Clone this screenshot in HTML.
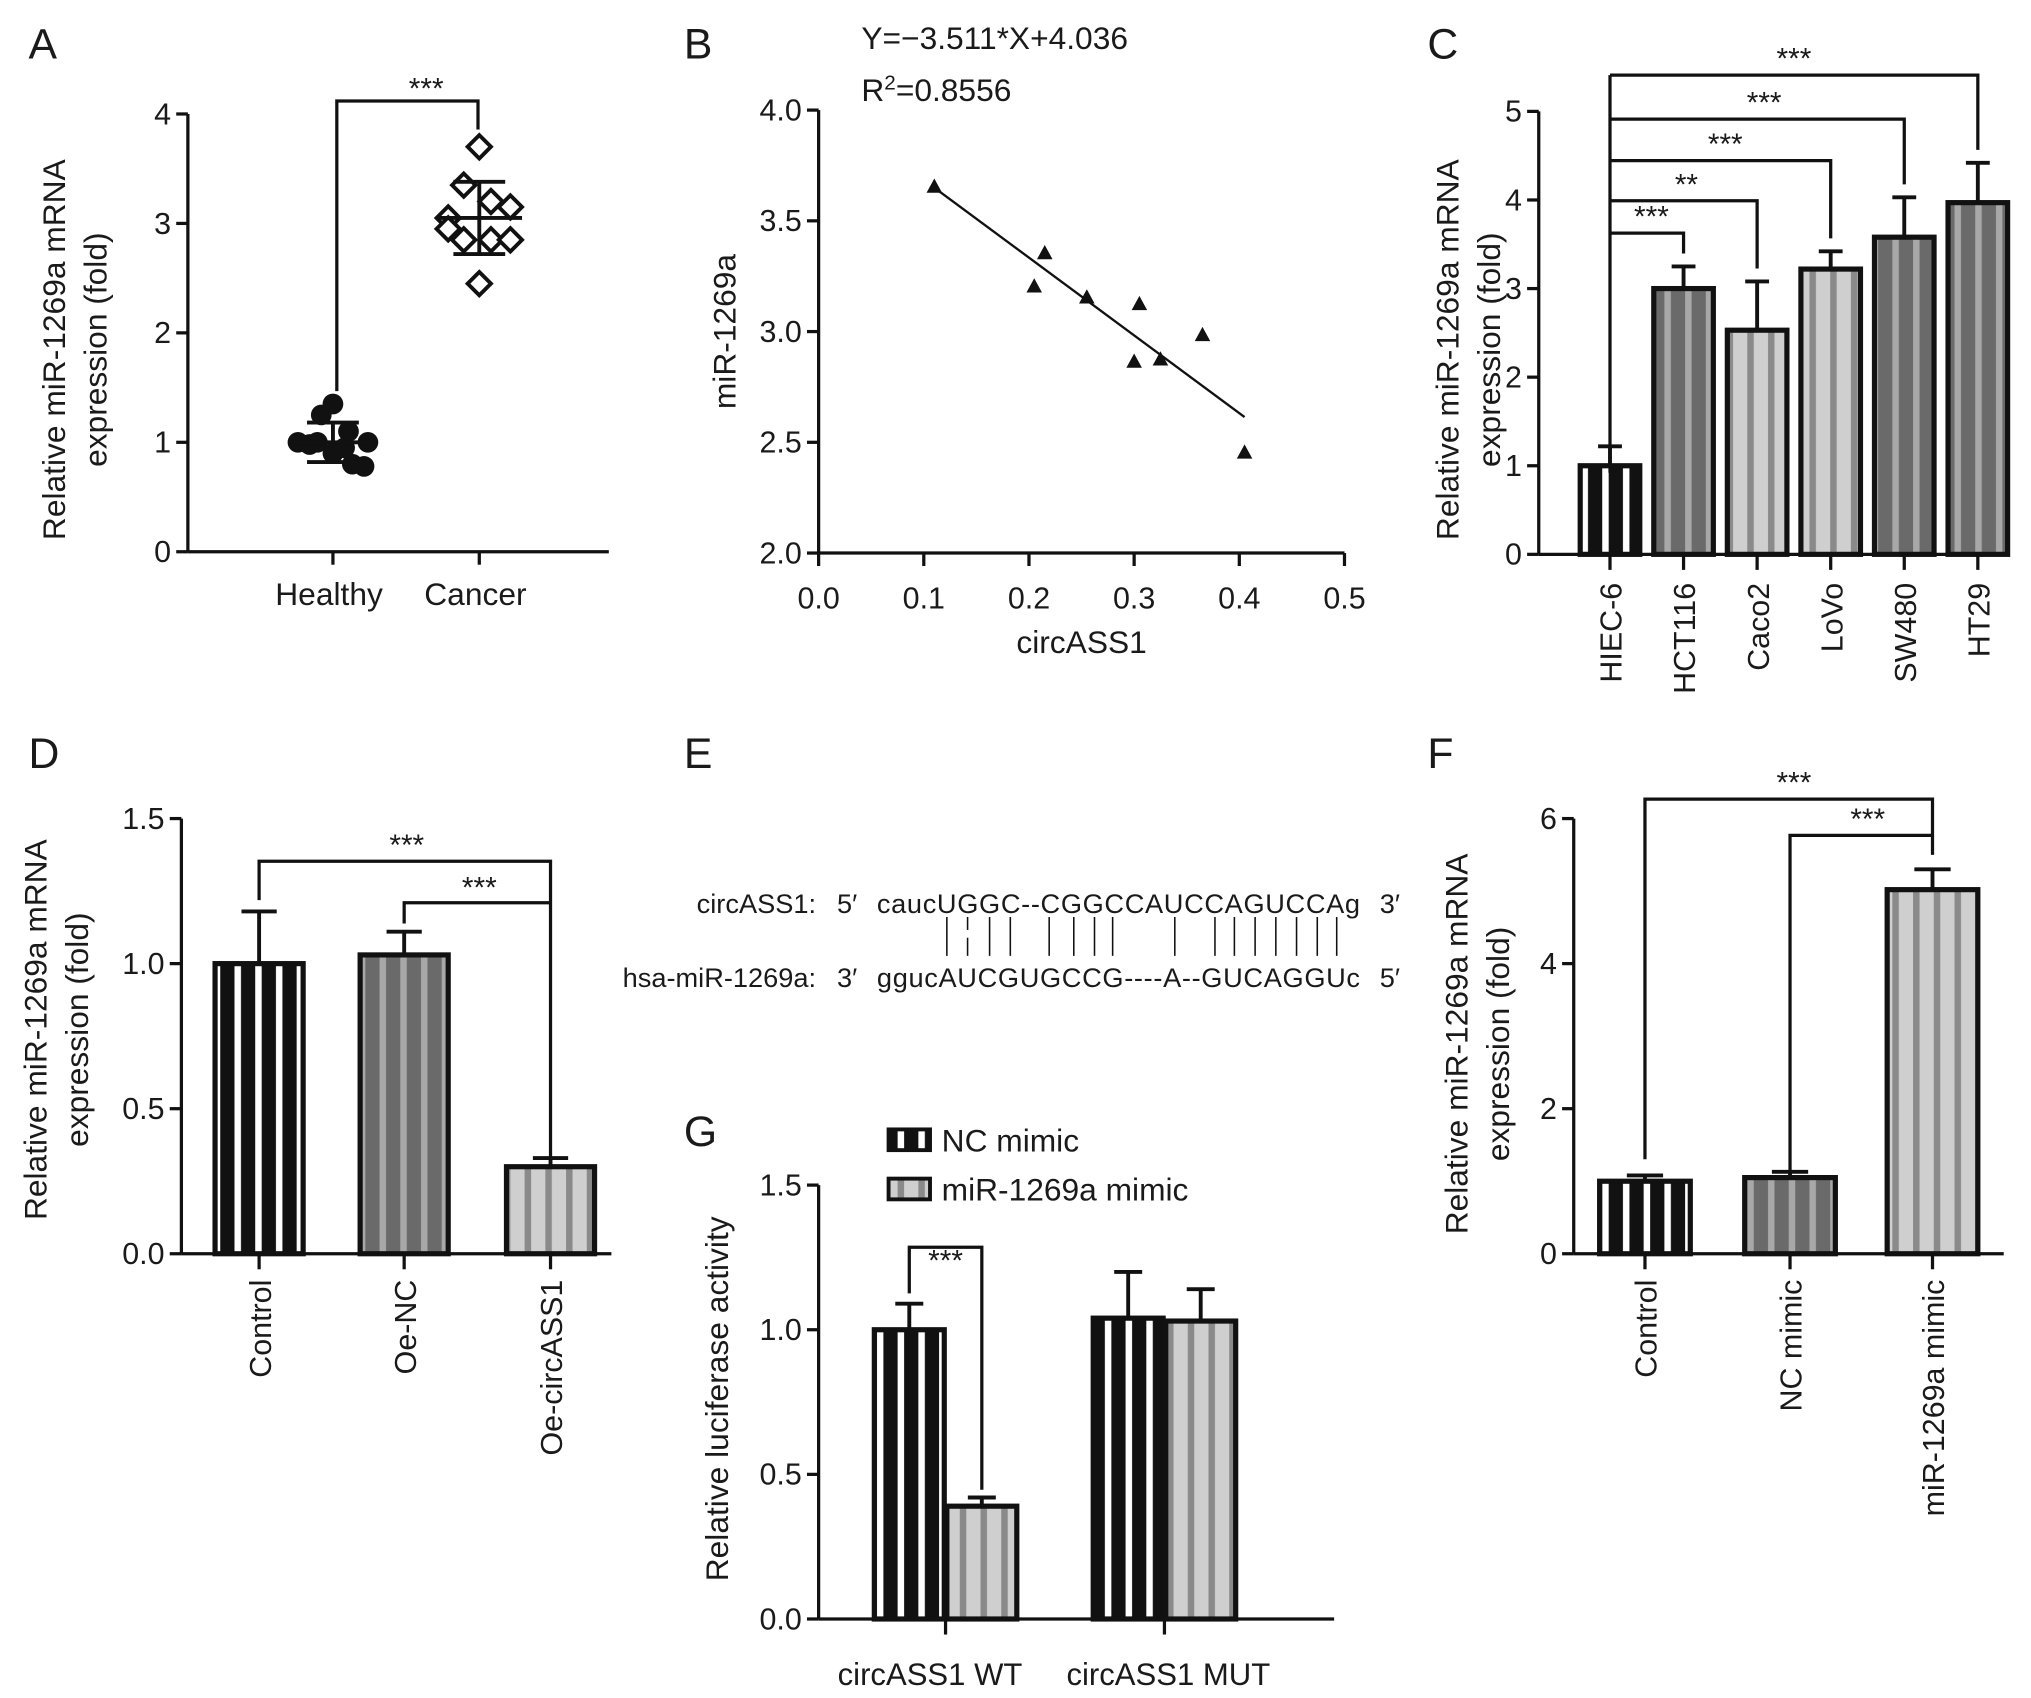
<!DOCTYPE html>
<html><head><meta charset="utf-8"><style>
html,body{margin:0;padding:0;background:#fff}
svg{display:block}
text{font-family:"Liberation Sans",Arial,sans-serif;fill:#1a1a1a}
</style></head><body>
<svg id="fig" width="2031" height="1698" viewBox="0 0 1568 1311" xmlns="http://www.w3.org/2000/svg">
<defs>
<pattern id="pBlack" width="16" height="10" patternUnits="userSpaceOnUse"><rect width="16" height="10" fill="#111"/><rect x="5" width="5" height="10" fill="#fff"/></pattern>
<pattern id="pDark" width="16" height="10" patternUnits="userSpaceOnUse"><rect width="16" height="10" fill="#6a6a6a"/><rect x="5" width="5" height="10" fill="#a8a8a8"/></pattern>
<pattern id="pLight" width="16" height="10" patternUnits="userSpaceOnUse"><rect width="16" height="10" fill="#cfcfcf"/><rect x="5" width="5" height="10" fill="#8a8a8a"/></pattern>
</defs>
<g id="root"></g>
</svg>
<script>
// ---- Panel A data ----
const aCats=["Healthy","Cancer"];
const aHealthy=[1.35,1.25,1.1,1.0,1.0,0.98,0.9,0.95,0.8,0.78,1.0];
const aHealthyX=[0,-0.3,0.4,0.9,-0.9,-0.6,0,0.3,0.5,0.8,-0.4];
const aCancer=[3.7,3.35,3.2,3.15,3.05,2.95,2.85,2.85,2.85,2.45];
const aCancerX=[0,-0.4,0.3,0.8,-0.8,-0.8,-0.4,0.3,0.8,0];
const aMean=[1.0,3.05];
const aSD=[0.18,0.33];
const aTicks=[0,1,2,3,4];
// ---- Panel B data ----
const bX=[0.11,0.215,0.205,0.255,0.305,0.3,0.325,0.365,0.405];
const bY=[3.65,3.35,3.2,3.15,3.12,2.86,2.87,2.98,2.45];
const bSlope=-3.511, bIntercept=4.036;
const bXTicks=[0.0,0.1,0.2,0.3,0.4,0.5];
const bYTicks=[2.0,2.5,3.0,3.5,4.0];
// ---- Panel C data ----
const cCats=["HIEC-6","HCT116","Caco2","LoVo","SW480","HT29"];
const cVals=[1.0,3.0,2.53,3.22,3.58,3.97];
const cErr=[0.22,0.25,0.55,0.2,0.45,0.45];
const cStars=["***","**","***","***","***"];
const cTicks=[0,1,2,3,4,5];
// ---- Panel D data ----
const dCats=["Control","Oe-NC","Oe-circASS1"];
const dVals=[1.0,1.03,0.3];
const dErr=[0.18,0.08,0.03];
const dTicks=[0.0,0.5,1.0,1.5];
// ---- Panel F data ----
const fCats=["Control","NC mimic","miR-1269a mimic"];
const fVals=[1.0,1.05,5.02];
const fErr=[0.08,0.08,0.28];
const fTicks=[0,2,4,6];
// ---- Panel G data ----
const gGroups=["circASS1 WT","circASS1 MUT"];
const gSeries=["NC mimic","miR-1269a mimic"];
const gNC=[1.0,1.04];
const gMimic=[0.39,1.03];
const gNCErr=[0.09,0.16];
const gMimicErr=[0.03,0.11];
const gTicks=[0.0,0.5,1.0,1.5];

const NS="http://www.w3.org/2000/svg";
const root=document.getElementById('root');
function el(tag,attrs,parent){const e=document.createElementNS(NS,tag);for(const k in attrs)e.setAttribute(k,attrs[k]);(parent||root).appendChild(e);return e;}
function line(x1,y1,x2,y2,w,p){return el('line',{x1,y1,x2,y2,stroke:'#111','stroke-width':w||2.5},p);}
function txt(x,y,s,size,anchor,p,rot){const t=el('text',{x,y,'font-size':size,'text-anchor':anchor||'middle'},p);if(rot)t.setAttribute('transform',`rotate(${rot} ${x} ${y})`);t.textContent=s;return t;}
function lin(d0,d1,r0,r1){return v=>r0+(v-d0)/(d1-d0)*(r1-r0);}

function yAxis(g,x,y0,y1,ticks,fy,fmt){
  line(x,y0,x,y1,2.5,g);
  ticks.forEach(t=>{const y=fy(t);const tk=line(x-9,y,x,y,2.5,g);
    const l=txt(x-13,y+8,fmt?fmt(t):String(t),23.5,'end',g);});
}
function yTitle(g,x1,x2,cy,l1,l2){
  const a=txt(x1,cy,l1,24.5,'middle',g,-90);
  if(l2){const b=txt(x2,cy,l2,24.5,'middle',g,-90);}
}
function panelLetter(x,y,s){const t=txt(x,y,s,33,'start');}
function bar(g,cx,w,v,err,fy,fill){
  const y=fy(v),y0=fy(0);
  const r=el('rect',{x:cx-w/2,y:y,width:w,height:y0-y,fill:fill,stroke:'#111','stroke-width':4},g);
  
  
  const ye=fy(v+err);
  line(cx,y,cx,ye,3,g);line(cx-w*0.2,ye,cx+w*0.2,ye,3,g);
}
function fmt1(t){return t.toFixed(1);}
const STAR=23;

panelLetter(22,45,'A');panelLetter(528,45,'B');panelLetter(1102,45,'C');
panelLetter(22,593,'D');panelLetter(528,593,'E');panelLetter(1102,593,'F');panelLetter(528,885,'G');

// ---------- Panel A ----------
(function(){
  const g=el('g',{});
  const fy=lin(0,4,426,88);const cx=[257,370];
  yAxis(g,145,426,88,aTicks,fy);
  line(145,426,470,426,2.5,g);
  aCats.forEach((c,i)=>{line(cx[i],426,cx[i],436,2.5,g);const l=txt(cx[i]-3,467,c,24.5,'middle',g);});
  yTitle(g,50,82,270,"Relative miR-1269a mRNA","expression (fold)");
  aHealthy.forEach((v,i)=>{const c=el('circle',{cx:cx[0]+aHealthyX[i]*30,cy:fy(v),r:8,fill:'#111'},g);});
  aCancer.forEach((v,i)=>{const x=cx[1]+aCancerX[i]*30,y=fy(v);const p=el('polygon',{points:`${x},${y-9} ${x+9},${y} ${x},${y+9} ${x-9},${y}`,fill:'#fff',stroke:'#111','stroke-width':3},g);});
  aMean.forEach((m,i)=>{const x=cx[i];line(x-33,fy(m),x+33,fy(m),3,g);line(x,fy(m-aSD[i]),x,fy(m+aSD[i]),3,g);line(x-20,fy(m-aSD[i]),x+20,fy(m-aSD[i]),3,g);line(x-20,fy(m+aSD[i]),x+20,fy(m+aSD[i]),3,g);});
  el('polyline',{points:`260,302 260,78 369,78 369,100`,fill:'none',stroke:'#111','stroke-width':2.5},g);
  txt(329,76,'***',STAR,'middle',g);
})();

// ---------- Panel B ----------
(function(){
  const g=el('g',{});
  const fx=lin(0,0.5,632,1038),fy=lin(2,4,427,85);
  yAxis(g,632,427,85,bYTicks,fy,fmt1);
  line(632,427,1038,427,2.5,g);
  bXTicks.forEach(t=>{line(fx(t),427,fx(t),437,2.5,g);const l=txt(fx(t),470,t.toFixed(1),23.5,'middle',g);});
  const xt=txt(835,504,'circASS1',24.5,'middle',g);
  yTitle(g,568,0,256,'miR-1269a');
  const xs=Math.min(...bX),xe=Math.max(...bX);
  const rl=line(fx(xs),fy(bSlope*xs+bIntercept),fx(xe),fy(bSlope*xe+bIntercept),1.8,g);
  bX.forEach((v,i)=>{const x=fx(v),y=fy(bY[i]);const p=el('polygon',{points:`${x},${y-7} ${x+6},${y+4} ${x-6},${y+4}`,fill:'#111'},g);});
  const eq=txt(665,38,'Y=\u22123.511*X+4.036',24.5,'start',g);
  const r2=el('text',{x:665,y:78,'font-size':24.5},g);
  r2.innerHTML='R<tspan dy="-9" font-size="16">2</tspan><tspan dy="9">=0.8556</tspan>';
})();

// ---------- Panel C ----------
(function(){
  const g=el('g',{});
  const fy=lin(0,5,428,86);const cx=cCats.map((c,i)=>1243+i*56.8);
  yAxis(g,1188,428,86,cTicks,fy);
  line(1188,428,1548,428,2.5,g);
  const fills=['url(#pBlack)','url(#pDark)','url(#pLight)','url(#pLight)','url(#pDark)','url(#pDark)'];
  cCats.forEach((c,i)=>{bar(g,cx[i],46,cVals[i],cErr[i],fy,fills[i]);line(cx[i],428,cx[i],440,2.5,g);
    const l=txt(cx[i]+9,450,c,23.5,'end',g,-90);});
  yTitle(g,1126,1158,270,"Relative miR-1269a mRNA","expression (fold)");
  for(let k=1;k<cCats.length;k++){
    const y=[0,180,155,124,92,58][k];
    const yEnd=fy(cVals[k]+cErr[k])-10;
    el('polyline',{points:`1243,${y} ${cx[k]},${y} ${cx[k]},${yEnd}`,fill:'none',stroke:'#111','stroke-width':2.5},g);
    txt([0,1275,1302,1332,1362,1385][k],y-5,cStars[k-1],STAR,'middle',g);
  }
  line(1243,58,1243,365,2.5,g);
})();

// ---------- Panel D ----------
(function(){
  const g=el('g',{});
  const fy=lin(0,1.5,968,632);const cx=[200,312,425];
  yAxis(g,140,968,632,dTicks,fy,fmt1);
  line(140,968,472,968,2.5,g);
  const fills=['url(#pBlack)','url(#pDark)','url(#pLight)'];
  dCats.forEach((c,i)=>{bar(g,cx[i],68,dVals[i],dErr[i],fy,fills[i]);line(cx[i],968,cx[i],980,2.5,g);
    const l=txt(cx[i]+9,988,c,23.5,'end',g,-90);});
  yTitle(g,36,68,795,"Relative miR-1269a mRNA","expression (fold)");
  el('polyline',{points:`200,695 200,665 425,665 425,893`,fill:'none',stroke:'#111','stroke-width':2.5},g);
  el('polyline',{points:`312,713 312,697 425,697`,fill:'none',stroke:'#111','stroke-width':2.5},g);
  txt(314,660,'***',STAR,'middle',g);txt(370,693,'***',STAR,'middle',g);
})();

// ---------- Panel E ----------
(function(){
  const g=el('g',{});
  const s=21;
  txt(630,705,'circASS1:',s,'end',g);txt(654,705,'5\u2032',s,'middle',g);
  const t1=txt(677,705,'caucUGGC--CGGCCAUCCAGUCCAg',s,'start',g);t1.setAttribute('textLength','373');
  txt(1073,705,'3\u2032',s,'middle',g);
  txt(630,762,'hsa-miR-1269a:',s,'end',g);txt(654,762,'3\u2032',s,'middle',g);
  const t2=txt(677,762,'ggucAUCGUGCCG----A--GUCAGGUc',s,'start',g);t2.setAttribute('textLength','373');
  txt(1073,762,'5\u2032',s,'middle',g);
  [731,764,780,810,829,845,859,907,938,953,969,985,1001,1017,1032].forEach(x=>line(x,708,x,738,1.2,g));
  line(747,708,747,718,1.2,g);line(747,724,747,738,1.2,g);
})();

// ---------- Panel F ----------
(function(){
  const g=el('g',{});
  const fy=lin(0,6,968,632);const cx=[1270,1382,1492];
  yAxis(g,1215,968,632,fTicks,fy);
  line(1215,968,1547,968,2.5,g);
  const fills=['url(#pBlack)','url(#pDark)','url(#pLight)'];
  fCats.forEach((c,i)=>{bar(g,cx[i],70,fVals[i],fErr[i],fy,fills[i]);line(cx[i],968,cx[i],980,2.5,g);
    const l=txt(cx[i]+9,988,c,23.5,'end',g,-90);});
  yTitle(g,1133,1165,806,"Relative miR-1269a mRNA","expression (fold)");
  el('polyline',{points:`1270,895 1270,617 1492,617 1492,660`,fill:'none',stroke:'#111','stroke-width':2.5},g);
  el('polyline',{points:`1382,905 1382,645 1492,645`,fill:'none',stroke:'#111','stroke-width':2.5},g);
  txt(1385,612,'***',STAR,'middle',g);txt(1442,640,'***',STAR,'middle',g);
})();

// ---------- Panel G ----------
(function(){
  const g=el('g',{});
  const fy=lin(0,1.5,1250,915);const gc=[730,899];const off=28,w=54;
  yAxis(g,632,1250,915,gTicks,fy,fmt1);
  line(632,1250,1030,1250,2.5,g);
  gGroups.forEach((c,i)=>{bar(g,gc[i]-off,w,gNC[i],gNCErr[i],fy,'url(#pBlack)');bar(g,gc[i]+off,w,gMimic[i],gMimicErr[i],fy,'url(#pLight)');
    line(gc[i],1250,gc[i],1262,2.5,g);
    const l=txt(gc[i]-12+i*15,1301,c,24,'middle',g);});
  yTitle(g,562,0,1080,'Relative luciferase activity');
  const x1=gc[0]-off,x2=gc[0]+off;
  el('polyline',{points:`${x1},${fy(gNC[0]+gNCErr[0])-8} ${x1},963 ${x2},963 ${x2},${fy(gMimic[0]+gMimicErr[0])-6}`,fill:'none',stroke:'#111','stroke-width':2.5},g);
  txt(730,981,'***',STAR,'middle',g);
  const fills=['url(#pBlack)','url(#pLight)'];
  gSeries.forEach((s,i)=>{const y=872+i*38;
    const r=el('rect',{x:686,y:y,width:32,height:16,fill:fills[i],stroke:'#111','stroke-width':3},g);
    const t=txt(727,y+17,s,24.5,'start',g);});
})();
</script>
</body></html>
